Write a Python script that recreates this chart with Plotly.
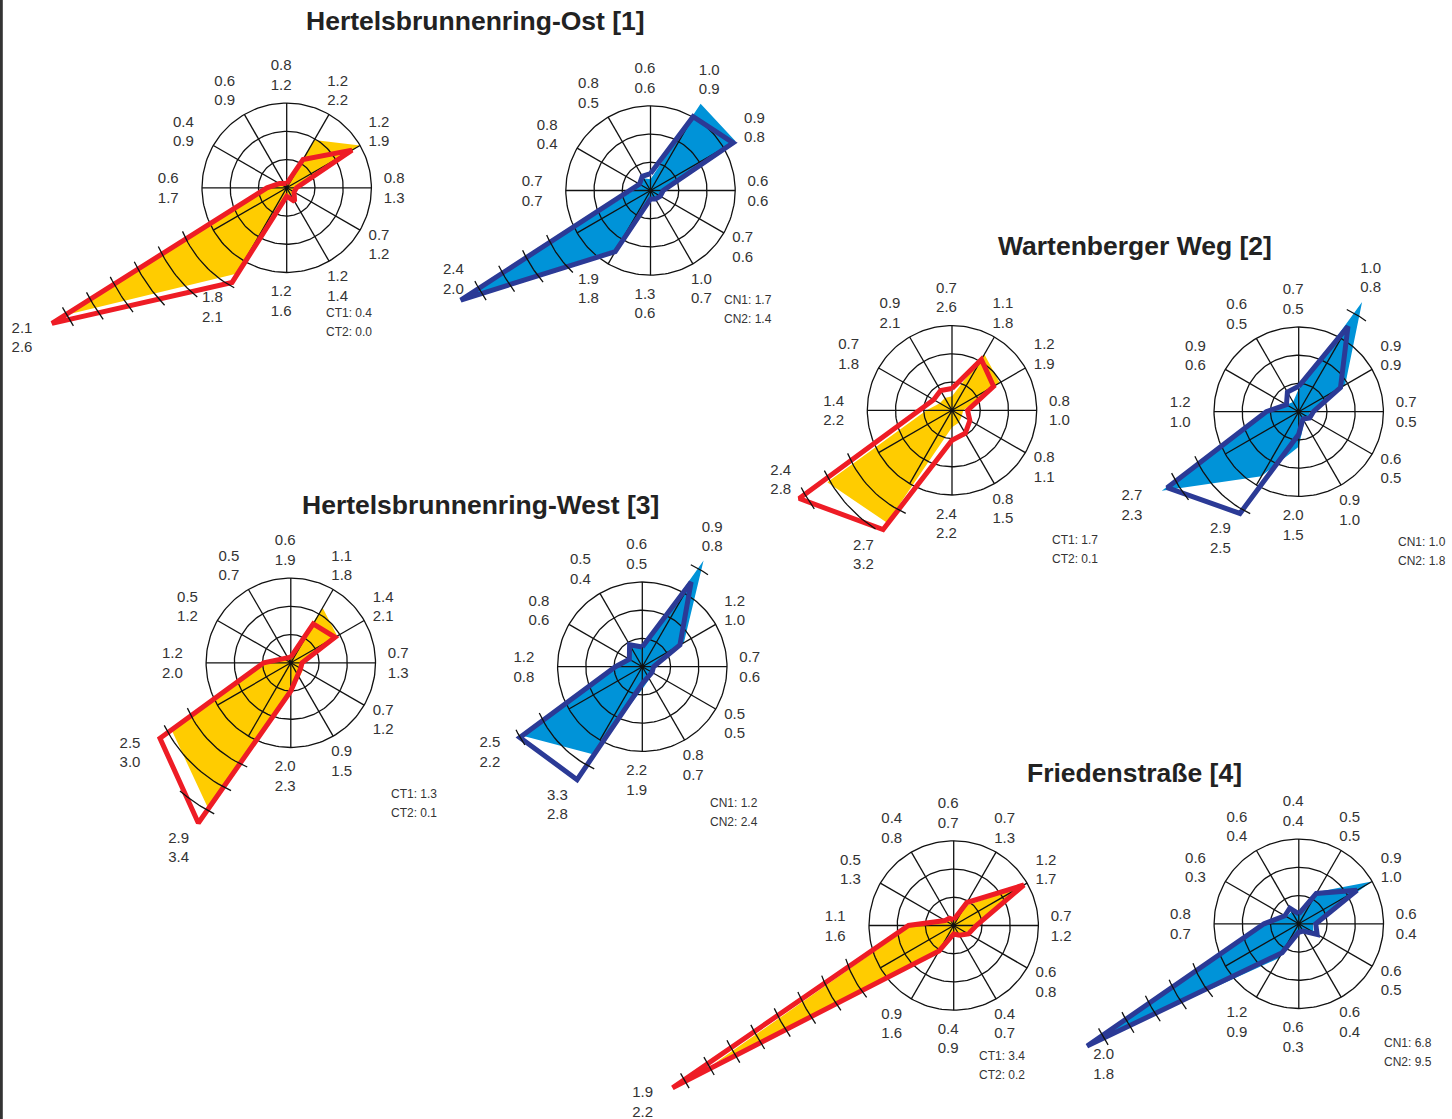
import numpy as np
import plotly.graph_objects as go

W, H = 1452, 1119
ANGLES = list(range(0, 360, 30))          # 12 directions, 0 = north, clockwise
GRID_RINGS = [1, 2, 3]                      # concentric rings (outer ring = 3)

# ---------------- data (radial values in ring units) ----------------
titles = ["Hertelsbrunnenring-Ost [1]", "Wartenberger Weg [2]",
          "Hertelsbrunnenring-West [3]", "Friedenstraße [4]"]

ost_ct_fill  = [0.1, 1.96, 3.0, 0.4, 0.3, 0.3, 0.3, 3.5, 9.0, 0.6, 0.2, 0.2]
ost_ct_line  = [0.15, 1.16, 2.67, 0.35, 0.3, 0.56, 0.3, 3.87, 9.6, 0.7, 0.3, 0.2]
ost_cn_fill  = [0.4, 3.55, 3.48, 0.4, 0.35, 0.35, 0.3, 2.4, 7.5, 0.6, 0.5, 0.5]
ost_cn_line  = [0.6, 3.02, 3.38, 0.45, 0.4, 0.35, 0.3, 2.5, 7.76, 0.7, 0.45, 0.58]

war_ct_fill  = [0.5, 2.29, 1.95, 0.4, 0.4, 0.5, 0.6, 4.6, 5.1, 0.9, 0.5, 0.5]
war_ct_line  = [0.77, 2.08, 1.7, 0.55, 0.73, 0.94, 1.06, 4.88, 6.25, 1.1, 0.75, 0.81]
war_cn_fill  = [0.8, 4.49, 1.9, 0.4, 0.4, 0.4, 1.24, 2.64, 5.6, 1.1, 0.5, 0.4]
war_cn_line  = [0.9, 3.49, 1.71, 0.52, 0.45, 0.3, 0.8, 4.16, 5.38, 1.15, 0.5, 0.8]

west_ct_fill = [0.2, 2.25, 1.9, 0.4, 0.5, 0.6, 1.0, 5.9, 4.85, 0.9, 0.3, 0.2]
west_ct_line = [0.2, 1.59, 1.81, 0.4, 0.4, 0.5, 1.0, 6.55, 5.35, 0.96, 0.3, 0.2]
west_cn_fill = [0.7, 4.34, 1.7, 0.4, 0.4, 0.5, 0.8, 3.57, 4.9, 0.9, 0.5, 0.8]
west_cn_line = [0.7, 3.46, 1.54, 0.4, 0.4, 0.4, 0.6, 4.62, 5.01, 0.95, 0.53, 0.9]

fri_ct_fill  = [0.2, 0.8, 2.7, 0.8, 0.5, 0.4, 0.3, 1.1, 9.8, 1.5, 0.3, 0.3]
fri_ct_line  = [0.2, 0.94, 2.87, 0.8, 0.6, 0.4, 0.3, 1.04, 11.5, 1.6, 0.35, 0.3]
fri_cn_fill  = [0.4, 1.3, 2.99, 0.5, 0.6, 0.3, 0.3, 1.4, 8.5, 1.2, 0.5, 0.5]
fri_cn_line  = [0.35, 1.24, 2.38, 0.6, 0.75, 0.3, 0.3, 1.18, 8.66, 1.23, 0.57, 0.64]

ost_ct_labels = ["0.8<br>1.2", "1.2<br>2.2", "1.2<br>1.9", "0.8<br>1.3", "0.7<br>1.2", "1.2<br>1.4",
                 "1.2<br>1.6", "1.8<br>2.1", "2.1<br>2.6", "0.6<br>1.7", "0.4<br>0.9", "0.6<br>0.9"]
ost_cn_labels = ["0.6<br>0.6", "1.0<br>0.9", "0.9<br>0.8", "0.6<br>0.6", "0.7<br>0.6", "1.0<br>0.7",
                 "1.3<br>0.6", "1.9<br>1.8", "2.4<br>2.0", "0.7<br>0.7", "0.8<br>0.4", "0.8<br>0.5"]
war_ct_labels = ["0.7<br>2.6", "1.1<br>1.8", "1.2<br>1.9", "0.8<br>1.0", "0.8<br>1.1", "0.8<br>1.5",
                 "2.4<br>2.2", "2.7<br>3.2", "2.4<br>2.8", "1.4<br>2.2", "0.7<br>1.8", "0.9<br>2.1"]
war_cn_labels = ["0.7<br>0.5", "1.0<br>0.8", "0.9<br>0.9", "0.7<br>0.5", "0.6<br>0.5", "0.9<br>1.0",
                 "2.0<br>1.5", "2.9<br>2.5", "2.7<br>2.3", "1.2<br>1.0", "0.9<br>0.6", "0.6<br>0.5"]
west_ct_labels = ["0.6<br>1.9", "1.1<br>1.8", "1.4<br>2.1", "0.7<br>1.3", "0.7<br>1.2", "0.9<br>1.5",
                  "2.0<br>2.3", "2.9<br>3.4", "2.5<br>3.0", "1.2<br>2.0", "0.5<br>1.2", "0.5<br>0.7"]
west_cn_labels = ["0.6<br>0.5", "0.9<br>0.8", "1.2<br>1.0", "0.7<br>0.6", "0.5<br>0.5", "0.8<br>0.7",
                  "2.2<br>1.9", "3.3<br>2.8", "2.5<br>2.2", "1.2<br>0.8", "0.8<br>0.6", "0.5<br>0.4"]
fri_ct_labels = ["0.6<br>0.7", "0.7<br>1.3", "1.2<br>1.7", "0.7<br>1.2", "0.6<br>0.8", "0.4<br>0.7",
                 "0.4<br>0.9", "0.9<br>1.6", "1.9<br>2.2", "1.1<br>1.6", "0.5<br>1.3", "0.4<br>0.8"]
fri_cn_labels = ["0.4<br>0.4", "0.5<br>0.5", "0.9<br>1.0", "0.6<br>0.4", "0.6<br>0.5", "0.6<br>0.4",
                 "0.6<br>0.3", "1.2<br>0.9", "2.0<br>1.8", "0.8<br>0.7", "0.6<br>0.3", "0.6<br>0.4"]

stats_names = [("CT1", "CT2"), ("CN1", "CN2")] * 4
stats_values = [(0.4, 0.0), (1.7, 1.4), (1.7, 0.1), (1.0, 1.8),
                (1.3, 0.1), (1.2, 2.4), (3.4, 0.2), (6.8, 9.5)]

fills = [ost_ct_fill, ost_cn_fill, war_ct_fill, war_cn_fill,
         west_ct_fill, west_cn_fill, fri_ct_fill, fri_cn_fill]
lines = [ost_ct_line, ost_cn_line, war_ct_line, war_cn_line,
         west_ct_line, west_cn_line, fri_ct_line, fri_cn_line]
labels = [ost_ct_labels, ost_cn_labels, war_ct_labels, war_cn_labels,
          west_ct_labels, west_cn_labels, fri_ct_labels, fri_cn_labels]

# ---------------- layout / style ----------------
CENTERS = [(286.7, 187.8), (650.5, 190.5), (952.0, 410.3), (1298.7, 411.7),
           (290.8, 662.8), (642.3, 666.7), (953.7, 925.5), (1298.8, 923.8)]
RPX = 84.7                                   # pixel radius of the outer ring
STAT_POS = [(349, 313), (748, 300), (1075, 540), (1422, 542),
            (414, 794), (734, 803), (1002, 1056), (1408, 1043)]
TITLE_POS = [(475, 21), (1135, 246), (480, 505), (1134, 773)]
LABEL_SHIFT = (-5.5, 1.5)                    # global pixel shift of direction labels
# extra pixel nudges for a few spike-tip labels: (chart index, direction index) -> (dx, dy)
LABEL_NUDGE = {(1, 8): (22.5, -35.5), (2, 8): (11.5, -33.5), (7, 8): (46.5, 3.5)}

FILL_COL = {"CT": "#FFCC00", "CN": "#0093D8"}
LINE_COL = {"CT": "#EE1C25", "CN": "#2B3A96"}
GRID_COL = "#111111"
FONT = "Liberation Sans, Arial, sans-serif"
UNIT = RPX / GRID_RINGS[-1]


def cross(a, b):
    return a[0] * b[1] - a[1] * b[0]


def poly_radius(rvals, th_deg):
    """radius of the straight-edged polygon along direction th (deg)."""
    rv = np.asarray(rvals, float)
    out = np.empty(len(th_deg))
    for j, t in enumerate(th_deg):
        i = int(t // 30) % 12
        a0, a1 = np.radians(30 * i), np.radians(30 * (i + 1))
        p0 = rv[i] * np.array([np.sin(a0), np.cos(a0)])
        p1 = rv[(i + 1) % 12] * np.array([np.sin(a1), np.cos(a1)])
        e = p1 - p0
        d = np.array([np.sin(np.radians(t)), np.cos(np.radians(t))])
        out[j] = cross(p0, e) / cross(d, e)
    return out


def to_xy(center, r, theta):
    """polar (ring units, compass degrees) -> axis coordinates (y axis points down)."""
    cx, cy = center
    xs, ys = [], []
    for rr, tt in zip(r, theta):
        if rr is None or tt is None:
            xs.append(None); ys.append(None)
        else:
            a = np.radians(tt)
            xs.append(cx + rr * UNIT * np.sin(a))
            ys.append(cy - rr * UNIT * np.cos(a))
    return xs, ys


fig = go.Figure()
common = dict(hoverinfo="skip", showlegend=False)

for k in range(8):
    kind = "CT" if k % 2 == 0 else "CN"
    fv, lv = fills[k], lines[k]
    c = CENTERS[k]

    # filled area
    x, y = to_xy(c, fv + [fv[0]], ANGLES + [ANGLES[0]])
    fig.add_trace(go.Scatter(x=x, y=y, mode="lines", fill="toself", fillcolor=FILL_COL[kind],
                             line=dict(width=0, color=FILL_COL[kind]), **common))
    # rings + spokes
    g_r, g_t = [], []
    for g in GRID_RINGS:
        tt = list(np.arange(0, 361, 2.0))
        g_r += [g] * len(tt) + [None]
        g_t += tt + [None]
    for a in ANGLES:
        g_r += [0, GRID_RINGS[-1], None]
        g_t += [a, a, None]
    x, y = to_xy(c, g_r, g_t)
    fig.add_trace(go.Scatter(x=x, y=y, mode="lines", line=dict(color=GRID_COL, width=1.3), **common))
    # outline
    x, y = to_xy(c, lv + [lv[0]], ANGLES + [ANGLES[0]])
    fig.add_trace(go.Scatter(x=x, y=y, mode="lines",
                             line=dict(color=LINE_COL[kind], width=5), **common))
    # ring continuation ticks beyond the outer ring
    ths = np.arange(0, 360, 0.25)
    env = np.maximum(poly_radius(fv, ths), poly_radius(lv, ths))
    tk_r, tk_t = [], []
    for ring in range(GRID_RINGS[-1] + 1, int(np.floor(env.max())) + 1):
        idx = np.where(env >= ring)[0]
        if len(idx) == 0:
            continue
        margin = np.degrees(8.5 / (ring * UNIT))
        runs = np.split(idx, np.where(np.diff(idx) > 1)[0] + 1)
        for run in runs:
            tt = list(np.linspace(ths[run[0]] - margin, ths[run[-1]] + margin, 20))
            tk_r += [ring] * len(tt) + [None]
            tk_t += tt + [None]
    if tk_r:
        x, y = to_xy(c, tk_r, tk_t)
        fig.add_trace(go.Scatter(x=x, y=y, mode="lines", line=dict(color=GRID_COL, width=1.3), **common))
    # centre dot
    x, y = to_xy(c, [0], [0])
    fig.add_trace(go.Scatter(x=x, y=y, mode="markers", marker=dict(color=GRID_COL, size=4), **common))
    # direction labels
    lab_r = [max(GRID_RINGS[-1], f, l) + 1.0 for f, l in zip(fv, lv)]
    x, y = to_xy(c, lab_r, ANGLES)
    for i in range(12):
        dx, dy = LABEL_NUDGE.get((k, i), (0, 0))
        x[i] += dx + LABEL_SHIFT[0]
        y[i] += dy + LABEL_SHIFT[1]
    fig.add_trace(go.Scatter(x=x, y=y, mode="text", text=labels[k], cliponaxis=False,
                             textfont=dict(family=FONT, size=15, color="#333333"),
                             textposition="middle center", **common))

annotations = []
for (tx, ty), t in zip(TITLE_POS, titles):
    annotations.append(dict(x=tx, y=ty, xref="x", yref="y", text=f"<b>{t}</b>",
                            showarrow=False, xanchor="center", yanchor="middle",
                            font=dict(family=FONT, size=26.5, color="#222222")))
for k in range(8):
    sx, sy = STAT_POS[k]
    for j in range(2):
        annotations.append(dict(x=sx, y=sy + 19 * j, xref="x", yref="y",
                                text=f"{stats_names[k][j]}: {stats_values[k][j]:.1f}",
                                showarrow=False, xanchor="center", yanchor="middle",
                                font=dict(family=FONT, size=12, color="#333333")))

fig.update_layout(
    width=W, height=H, margin=dict(l=0, r=0, t=0, b=0),
    paper_bgcolor="white", plot_bgcolor="white",
    showlegend=False, annotations=annotations,
    xaxis=dict(range=[0, W], visible=False, fixedrange=True),
    yaxis=dict(range=[H, 0], visible=False, fixedrange=True),
    shapes=[dict(type="line", xref="paper", yref="paper", x0=1.3 / W, x1=1.3 / W, y0=0, y1=1,
                 line=dict(color="#333333", width=3))],
)

fig.write_html("out.html")
